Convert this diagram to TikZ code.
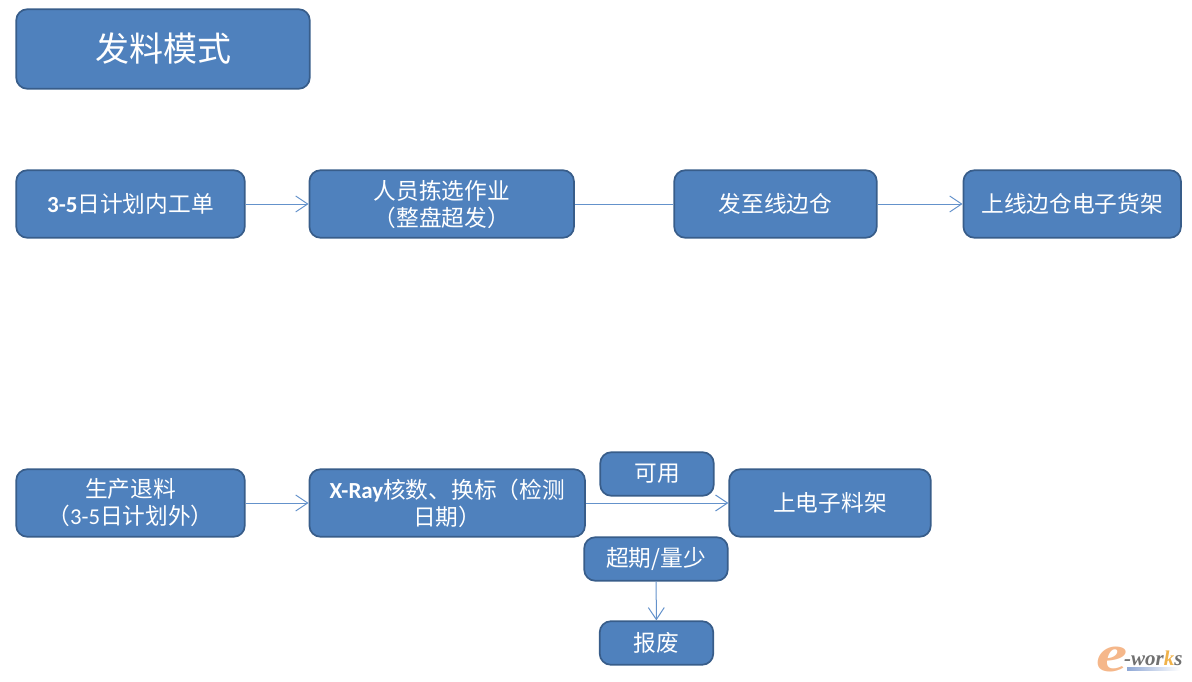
\documentclass[tikz,border=0pt]{standalone}
\usepackage{fontspec}
\setmainfont{Noto Sans CJK SC}
\newfontfamily\lat{Carlito}
\newfontfamily\logofont{Liberation Serif}
\usetikzlibrary{arrows.meta}
\definecolor{boxfill}{HTML}{4F81BD}
\definecolor{boxline}{HTML}{385D8A}
\definecolor{conn}{HTML}{6492CB}
\definecolor{logoorange}{HTML}{F5B78A}
\definecolor{logogray}{HTML}{707070}
\definecolor{logok}{HTML}{F0B24A}
\definecolor{logobar}{HTML}{8FA8D6}
\tikzset{
  box/.style={draw=boxline,line width=1.7pt,fill=boxfill,rounded corners=11pt,text=white,
    align=center,inner sep=0pt,font=\fontsize{22.7}{27}\selectfont},
  flow/.style={draw=conn,line width=1pt,-{Straight Barb[length=12pt,width=16pt,line width=1pt]}},
  plain/.style={draw=conn,line width=1pt}
}
\begin{document}
\begin{tikzpicture}[x=1pt,y=-1pt]
\useasboundingbox (0,0) rectangle (1192,682);
\node[box,minimum width=293.5pt,minimum height=79.5pt,font=\fontsize{34}{40}\selectfont] (title) at (163,49) {发料模式};
\node[box,minimum width=228.5pt,minimum height=67.5pt] (a1) at (130.5,204) {{\lat\bfseries\fontsize{23}{27}\selectfont 3-5}日计划内工单};
\node[box,minimum width=264.5pt,minimum height=67.5pt] (a2) at (441.7,204) {人员拣选作业\\（整盘超发）};
\node[box,minimum width=202.5pt,minimum height=67.5pt] (a3) at (775.5,204) {发至线边仓};
\node[box,minimum width=217.5pt,minimum height=67.5pt] (a4) at (1072.2,204) {上线边仓电子货架};
\node[box,minimum width=228.5pt,minimum height=67.5pt] (b1) at (130.5,503) {生产退料\\（{\lat 3-5}日计划外）};
\node[box,minimum width=275.5pt,minimum height=67.5pt] (b2) at (447.2,503) {{\lat\bfseries\fontsize{23}{27}\selectfont X-Ray}核数、换标（检测\\日期）};
\node[box,minimum width=201.5pt,minimum height=67.5pt] (b3) at (830,503) {上电子料架};
\node[box,minimum width=113.5pt,minimum height=43.5pt] (ok) at (657,474) {可用};
\node[box,minimum width=143.5pt,minimum height=43.5pt] (over) at (656,559) {超期/量少};
\node[box,minimum width=113.5pt,minimum height=43.5pt] (scrap) at (656.5,643) {报废};
\draw[flow] (a1) -- (a2);
\draw[plain] (a2) -- (a3);
\draw[flow] (a3) -- (a4);
\draw[flow] (b1) -- (b2);
\draw[flow] (b2) -- (b3);
\draw[flow] (over) -- (scrap);
% watermark
\node[text=logoorange,font=\logofont\itshape\bfseries\fontsize{52}{52}\selectfont,inner sep=0pt,xscale=1.35] (logoe) at (1112,659) {e};
\node[text=logogray,font=\logofont\itshape\bfseries\fontsize{21}{21}\selectfont,inner sep=0pt,anchor=west] (logot) at (1124,658) {-wor{\color{logok}k}s};
\fill[left color=logobar,right color=white] (1127,667) rectangle (1180,670);
\end{tikzpicture}
\end{document}
